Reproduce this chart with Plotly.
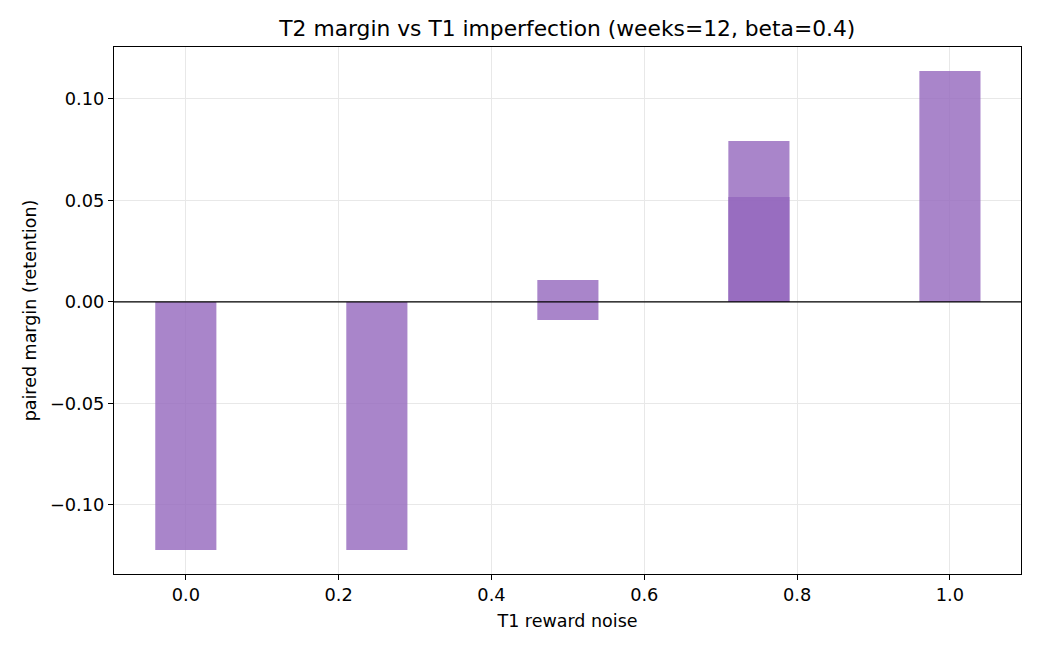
import plotly.graph_objects as go

# Data
noise_a = [0.0, 0.25, 0.5, 0.75, 1.0]
margin_a = [-0.1222, -0.1222, 0.0108, 0.0793, 0.1138]
noise_b = [0.5, 0.75]
margin_b = [-0.0089, 0.0517]

x_ticks = [0.0, 0.2, 0.4, 0.6, 0.8, 1.0]
x_tick_text = ["0.0", "0.2", "0.4", "0.6", "0.8", "1.0"]
y_ticks = [-0.10, -0.05, 0.0, 0.05, 0.10]
y_tick_text = ["\u22120.10", "\u22120.05", "0.00", "0.05", "0.10"]

bar_color = "rgba(148,103,189,0.8)"
font = "DejaVu Sans"

fig = go.Figure()
fig.add_trace(go.Bar(x=noise_a, y=margin_a, width=0.08, marker=dict(color=bar_color, line=dict(width=0)),
                     showlegend=False))
fig.add_trace(go.Bar(x=noise_b, y=margin_b, width=0.08, marker=dict(color=bar_color, line=dict(width=0)),
                     showlegend=False))

fig.add_shape(type="line", xref="paper", yref="y", x0=0, x1=1, y0=0, y1=0,
              line=dict(color="black", width=1.3), layer="above")

fig.update_layout(
    width=1040, height=650,
    margin=dict(l=114, r=19, t=47, b=76),
    barmode="overlay",
    paper_bgcolor="white", plot_bgcolor="white",
    font=dict(family=font, size=17.5, color="black"),
    title=dict(text="T2 margin vs T1 imperfection (weeks=12, beta=0.4)",
               x=0.5455, xanchor="center", y=0.957, yanchor="middle",
               font=dict(family=font, size=21.8, color="black")),
    xaxis=dict(range=[-0.094, 1.093], tickvals=x_ticks, ticktext=x_tick_text,
               tickfont=dict(family=font, size=17.8),
               showgrid=True, gridcolor="#e8e8e8", gridwidth=1,
               showline=True, linecolor="black", linewidth=1.1, mirror=True,
               ticks="outside", ticklen=5, tickcolor="black", tickwidth=1,
               zeroline=False,
               title=dict(text="T1 reward noise", font=dict(family=font, size=17.5), standoff=10)),
    yaxis=dict(range=[-0.134, 0.1256], tickvals=y_ticks, ticktext=y_tick_text,
               tickfont=dict(family=font, size=17.8),
               showgrid=True, gridcolor="#e8e8e8", gridwidth=1,
               showline=True, linecolor="black", linewidth=1.1, mirror=True,
               ticks="outside", ticklen=5, tickcolor="black", tickwidth=1,
               zeroline=False,
               title=dict(text="paired margin (retention)", font=dict(family=font, size=17.5), standoff=8)),
)

fig.write_html("out.html")
